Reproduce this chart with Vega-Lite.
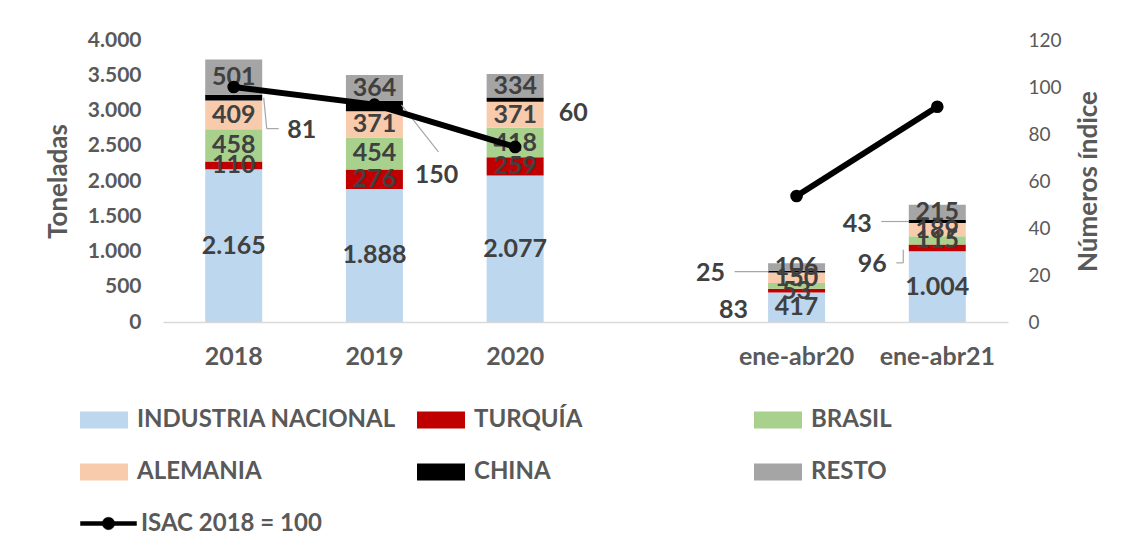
{
  "$schema": "https://vega.github.io/schema/vega-lite/v6.json",
  "width": 845,
  "height": 282,
  "padding": {"left": 45, "top": 29, "right": 5, "bottom": 5},
  "background": "white",
  "datasets": {
    "tons": [
      {"periodo": "2018", "origen": "INDUSTRIA NACIONAL", "orden": 1, "toneladas": 2165},
      {"periodo": "2018", "origen": "TURQUÍA", "orden": 2, "toneladas": 110},
      {"periodo": "2018", "origen": "BRASIL", "orden": 3, "toneladas": 458},
      {"periodo": "2018", "origen": "ALEMANIA", "orden": 4, "toneladas": 409},
      {"periodo": "2018", "origen": "CHINA", "orden": 5, "toneladas": 81},
      {"periodo": "2018", "origen": "RESTO", "orden": 6, "toneladas": 501},
      {"periodo": "2019", "origen": "INDUSTRIA NACIONAL", "orden": 1, "toneladas": 1888},
      {"periodo": "2019", "origen": "TURQUÍA", "orden": 2, "toneladas": 276},
      {"periodo": "2019", "origen": "BRASIL", "orden": 3, "toneladas": 454},
      {"periodo": "2019", "origen": "ALEMANIA", "orden": 4, "toneladas": 371},
      {"periodo": "2019", "origen": "CHINA", "orden": 5, "toneladas": 150},
      {"periodo": "2019", "origen": "RESTO", "orden": 6, "toneladas": 364},
      {"periodo": "2020", "origen": "INDUSTRIA NACIONAL", "orden": 1, "toneladas": 2077},
      {"periodo": "2020", "origen": "TURQUÍA", "orden": 2, "toneladas": 259},
      {"periodo": "2020", "origen": "BRASIL", "orden": 3, "toneladas": 418},
      {"periodo": "2020", "origen": "ALEMANIA", "orden": 4, "toneladas": 371},
      {"periodo": "2020", "origen": "CHINA", "orden": 5, "toneladas": 60},
      {"periodo": "2020", "origen": "RESTO", "orden": 6, "toneladas": 334},
      {"periodo": "ene-abr20", "origen": "INDUSTRIA NACIONAL", "orden": 1, "toneladas": 417},
      {"periodo": "ene-abr20", "origen": "TURQUÍA", "orden": 2, "toneladas": 53},
      {"periodo": "ene-abr20", "origen": "BRASIL", "orden": 3, "toneladas": 83},
      {"periodo": "ene-abr20", "origen": "ALEMANIA", "orden": 4, "toneladas": 150},
      {"periodo": "ene-abr20", "origen": "CHINA", "orden": 5, "toneladas": 25},
      {"periodo": "ene-abr20", "origen": "RESTO", "orden": 6, "toneladas": 106},
      {"periodo": "ene-abr21", "origen": "INDUSTRIA NACIONAL", "orden": 1, "toneladas": 1004},
      {"periodo": "ene-abr21", "origen": "TURQUÍA", "orden": 2, "toneladas": 96},
      {"periodo": "ene-abr21", "origen": "BRASIL", "orden": 3, "toneladas": 115},
      {"periodo": "ene-abr21", "origen": "ALEMANIA", "orden": 4, "toneladas": 189},
      {"periodo": "ene-abr21", "origen": "CHINA", "orden": 5, "toneladas": 43},
      {"periodo": "ene-abr21", "origen": "RESTO", "orden": 6, "toneladas": 215}
    ],
    "isac": [
      {"periodo": "2018", "tramo": "anual", "indice": 100},
      {"periodo": "2019", "tramo": "anual", "indice": 92.5},
      {"periodo": "2020", "tramo": "anual", "indice": 74.5},
      {"periodo": "ene-abr20", "tramo": "parcial", "indice": 53.6},
      {"periodo": "ene-abr21", "tramo": "parcial", "indice": 91.6}
    ]
  },
  "encoding": {
    "x": {
      "field": "periodo",
      "type": "nominal",
      "scale": {"domain": ["2018", "2019", "2020", "gap", "ene-abr20", "ene-abr21"], "paddingInner": 0.595, "paddingOuter": 0.3},
      "axis": {
        "title": null,
        "labelAngle": 0,
        "labelExpr": "datum.value == 'gap' ? '' : datum.value",
        "labelFont": "Lato",
        "labelFontSize": 25,
        "labelFontWeight": "bold",
        "labelColor": "#595959",
        "labelPadding": 22,
        "ticks": false,
        "domainColor": "#D9D9D9",
        "domainWidth": 1.5,
        "grid": false
      }
    }
  },
  "layer": [
    {
      "data": {"name": "tons"},
      "transform": [
        {"stack": "toneladas", "groupby": ["periodo"], "sort": [{"field": "orden", "order": "ascending"}], "as": ["t0", "t1"]},
        {"calculate": "(datum.t0 + datum.t1) / 2", "as": "tmid"}
      ],
      "encoding": {
        "y": {
          "field": "t1",
          "type": "quantitative",
          "stack": null,
          "scale": {"domain": [0, 4000], "nice": false, "zero": true},
          "axis": {
            "title": "Toneladas",
            "titleFont": "Lato",
            "titleFontSize": 26,
            "titleFontWeight": "bold",
            "titleColor": "#595959",
            "titlePadding": 16,
            "values": [0, 500, 1000, 1500, 2000, 2500, 3000, 3500, 4000],
            "format": ",d",
            "labelFont": "Lato",
            "labelFontSize": 21,
            "labelFontWeight": "bold",
            "labelColor": "#595959",
            "labelPadding": 22,
            "ticks": false,
            "domain": false,
            "grid": false
          }
        }
      },
      "layer": [
        {
          "mark": {"type": "bar"},
          "encoding": {
            "y2": {"field": "t0"},
            "color": {
              "field": "origen",
              "type": "nominal",
              "scale": {
                "domain": ["INDUSTRIA NACIONAL", "TURQUÍA", "BRASIL", "ALEMANIA", "CHINA", "RESTO"],
                "range": ["#BDD7EE", "#C00000", "#A9D18E", "#F8CBAD", "#000000", "#A5A5A5"]
              },
              "legend": {
                "title": null,
                "orient": "none",
                "legendX": -83,
                "legendY": 356,
                "columns": 3,
                "direction": "horizontal",
                "gridAlign": "all",
                "columnPadding": 21,
                "rowPadding": 16,
                "padding": 0,
                "symbolType": "M-1,-0.35H1V0.35H-1Z",
                "symbolSize": 2304,
                "symbolStrokeWidth": 0,
                "symbolOpacity": 1,
                "labelFont": "Lato",
                "labelFontSize": 24,
                "labelFontWeight": "bold",
                "labelColor": "#595959",
                "labelOffset": 9,
                "labelLimit": 400
              }
            }
          }
        },
        {
          "transform": [{"filter": "!(datum.origen == 'CHINA' || (datum.periodo == 'ene-abr20' && datum.origen == 'BRASIL') || (datum.periodo == 'ene-abr21' && datum.origen == 'TURQUÍA'))"}],
          "mark": {"type": "text", "font": "Lato", "fontSize": 25, "fontWeight": "bold", "color": "#404040", "baseline": "middle", "align": "center"},
          "encoding": {"y": {"field": "tmid", "type": "quantitative"}, "text": {"field": "toneladas", "type": "quantitative", "format": ",d"}}
        },
        {
          "transform": [{"filter": "datum.periodo == '2018' && datum.origen == 'CHINA'"}],
          "mark": {"type": "text", "font": "Lato", "fontSize": 25, "fontWeight": "bold", "color": "#404040", "baseline": "middle", "align": "center", "dx": 68, "dy": 32},
          "encoding": {"y": {"field": "tmid", "type": "quantitative"}, "text": {"field": "toneladas", "type": "quantitative", "format": ",d"}}
        },
        {
          "transform": [{"filter": "datum.periodo == '2019' && datum.origen == 'CHINA'"}],
          "mark": {"type": "text", "font": "Lato", "fontSize": 25, "fontWeight": "bold", "color": "#404040", "baseline": "middle", "align": "center", "dx": 62, "dy": 69},
          "encoding": {"y": {"field": "tmid", "type": "quantitative"}, "text": {"field": "toneladas", "type": "quantitative", "format": ",d"}}
        },
        {
          "transform": [{"filter": "datum.periodo == '2020' && datum.origen == 'CHINA'"}],
          "mark": {"type": "text", "font": "Lato", "fontSize": 25, "fontWeight": "bold", "color": "#404040", "baseline": "middle", "align": "center", "dx": 58, "dy": 13},
          "encoding": {"y": {"field": "tmid", "type": "quantitative"}, "text": {"field": "toneladas", "type": "quantitative", "format": ",d"}}
        },
        {
          "transform": [{"filter": "datum.periodo == 'ene-abr20' && datum.origen == 'CHINA'"}],
          "mark": {"type": "text", "font": "Lato", "fontSize": 25, "fontWeight": "bold", "color": "#404040", "baseline": "middle", "align": "center", "dx": -86, "dy": 1},
          "encoding": {"y": {"field": "tmid", "type": "quantitative"}, "text": {"field": "toneladas", "type": "quantitative", "format": ",d"}}
        },
        {
          "transform": [{"filter": "datum.periodo == 'ene-abr20' && datum.origen == 'BRASIL'"}],
          "mark": {"type": "text", "font": "Lato", "fontSize": 25, "fontWeight": "bold", "color": "#404040", "baseline": "middle", "align": "center", "dx": -63, "dy": 24},
          "encoding": {"y": {"field": "tmid", "type": "quantitative"}, "text": {"field": "toneladas", "type": "quantitative", "format": ",d"}}
        },
        {
          "transform": [{"filter": "datum.periodo == 'ene-abr21' && datum.origen == 'CHINA'"}],
          "mark": {"type": "text", "font": "Lato", "fontSize": 25, "fontWeight": "bold", "color": "#404040", "baseline": "middle", "align": "center", "dx": -80, "dy": 2},
          "encoding": {"y": {"field": "tmid", "type": "quantitative"}, "text": {"field": "toneladas", "type": "quantitative", "format": ",d"}}
        },
        {
          "transform": [{"filter": "datum.periodo == 'ene-abr21' && datum.origen == 'TURQUÍA'"}],
          "mark": {"type": "text", "font": "Lato", "fontSize": 25, "fontWeight": "bold", "color": "#404040", "baseline": "middle", "align": "center", "dx": -65, "dy": 16},
          "encoding": {"y": {"field": "tmid", "type": "quantitative"}, "text": {"field": "toneladas", "type": "quantitative", "format": ",d"}}
        },
        {
          "transform": [{"filter": "datum.periodo == '2018' && datum.origen == 'CHINA'"}],
          "mark": {"type": "rule", "color": "#A6A6A6", "strokeWidth": 1.2, "xOffset": 30, "x2Offset": 33, "yOffset": 0, "y2Offset": 31},
          "encoding": {"y": {"field": "tmid", "type": "quantitative"}, "y2": {"field": "tmid"}, "x2": {"field": "periodo"}}
        },
        {
          "transform": [{"filter": "datum.periodo == '2018' && datum.origen == 'CHINA'"}],
          "mark": {"type": "rule", "color": "#A6A6A6", "strokeWidth": 1.2, "xOffset": 33, "x2Offset": 45, "yOffset": 31, "y2Offset": 31},
          "encoding": {"y": {"field": "tmid", "type": "quantitative"}, "y2": {"field": "tmid"}, "x2": {"field": "periodo"}}
        },
        {
          "transform": [{"filter": "datum.periodo == '2019' && datum.origen == 'CHINA'"}],
          "mark": {"type": "rule", "color": "#A6A6A6", "strokeWidth": 1.2, "xOffset": 27, "x2Offset": 64, "yOffset": -1, "y2Offset": 46},
          "encoding": {"y": {"field": "tmid", "type": "quantitative"}, "y2": {"field": "tmid"}, "x2": {"field": "periodo"}}
        },
        {
          "transform": [{"filter": "datum.periodo == 'ene-abr20' && datum.origen == 'CHINA'"}],
          "mark": {"type": "rule", "color": "#A6A6A6", "strokeWidth": 1.2, "xOffset": -62, "x2Offset": -28, "yOffset": 0, "y2Offset": 0},
          "encoding": {"y": {"field": "tmid", "type": "quantitative"}, "y2": {"field": "tmid"}, "x2": {"field": "periodo"}}
        },
        {
          "transform": [{"filter": "datum.periodo == 'ene-abr21' && datum.origen == 'CHINA'"}],
          "mark": {"type": "rule", "color": "#A6A6A6", "strokeWidth": 1.2, "xOffset": -56, "x2Offset": -28, "yOffset": 0, "y2Offset": 0},
          "encoding": {"y": {"field": "tmid", "type": "quantitative"}, "y2": {"field": "tmid"}, "x2": {"field": "periodo"}}
        },
        {
          "transform": [{"filter": "datum.periodo == 'ene-abr21' && datum.origen == 'TURQUÍA'"}],
          "mark": {"type": "rule", "color": "#A6A6A6", "strokeWidth": 1.2, "xOffset": -41, "x2Offset": -34, "yOffset": 15, "y2Offset": 15},
          "encoding": {"y": {"field": "tmid", "type": "quantitative"}, "y2": {"field": "tmid"}, "x2": {"field": "periodo"}}
        },
        {
          "transform": [{"filter": "datum.periodo == 'ene-abr21' && datum.origen == 'TURQUÍA'"}],
          "mark": {"type": "rule", "color": "#A6A6A6", "strokeWidth": 1.2, "xOffset": -34, "x2Offset": -34, "yOffset": 2, "y2Offset": 15},
          "encoding": {"y": {"field": "tmid", "type": "quantitative"}, "y2": {"field": "tmid"}, "x2": {"field": "periodo"}}
        }
      ]
    },
    {
      "data": {"name": "isac"},
      "encoding": {
        "y": {
          "field": "indice",
          "type": "quantitative",
          "scale": {"domain": [0, 120], "nice": false},
          "axis": {
            "orient": "right",
            "title": "Números índice",
            "titleAngle": -90,
            "titleFont": "Lato",
            "titleFontSize": 26,
            "titleFontWeight": "bold",
            "titleColor": "#595959",
            "titlePadding": 40,
            "values": [0, 20, 40, 60, 80, 100, 120],
            "labelFont": "Lato",
            "labelFontSize": 19,
            "labelFontWeight": "normal",
            "labelColor": "#595959",
            "labelPadding": 20,
            "ticks": false,
            "domain": false,
            "grid": false
          }
        }
      },
      "layer": [
        {
          "mark": {"type": "line", "strokeWidth": 6},
          "encoding": {
            "detail": {"field": "tramo"},
            "stroke": {
              "datum": "ISAC 2018 = 100",
              "type": "nominal",
              "scale": {"range": ["#000000"]},
              "legend": {
                "title": null,
                "orient": "none",
                "legendX": -83,
                "legendY": 455,
                "padding": 0,
                "symbolType": "M-1,-0.07H1V0.07H-1Z M-0.22,0A0.22,0.22 0 1,1 0.22,0A0.22,0.22 0 1,1 -0.22,0Z",
                "symbolSize": 3136,
                "symbolFillColor": "#000000",
                "symbolStrokeColor": "#000000",
                "symbolStrokeWidth": 0.5,
                "labelFont": "Lato",
                "labelFontSize": 24,
                "labelFontWeight": "bold",
                "labelColor": "#595959",
                "labelOffset": 4,
                "labelLimit": 400
              }
            }
          }
        },
        {
          "mark": {"type": "point", "filled": true, "size": 160, "color": "#000000", "opacity": 1},
          "encoding": {}
        }
      ]
    }
  ],
  "resolve": {"scale": {"y": "independent"}},
  "config": {
    "view": {"stroke": null},
    "font": "Lato",
    "locale": {"number": {"decimal": ",", "thousands": ".", "grouping": [3], "currency": ["", " €"]}}
  }
}
